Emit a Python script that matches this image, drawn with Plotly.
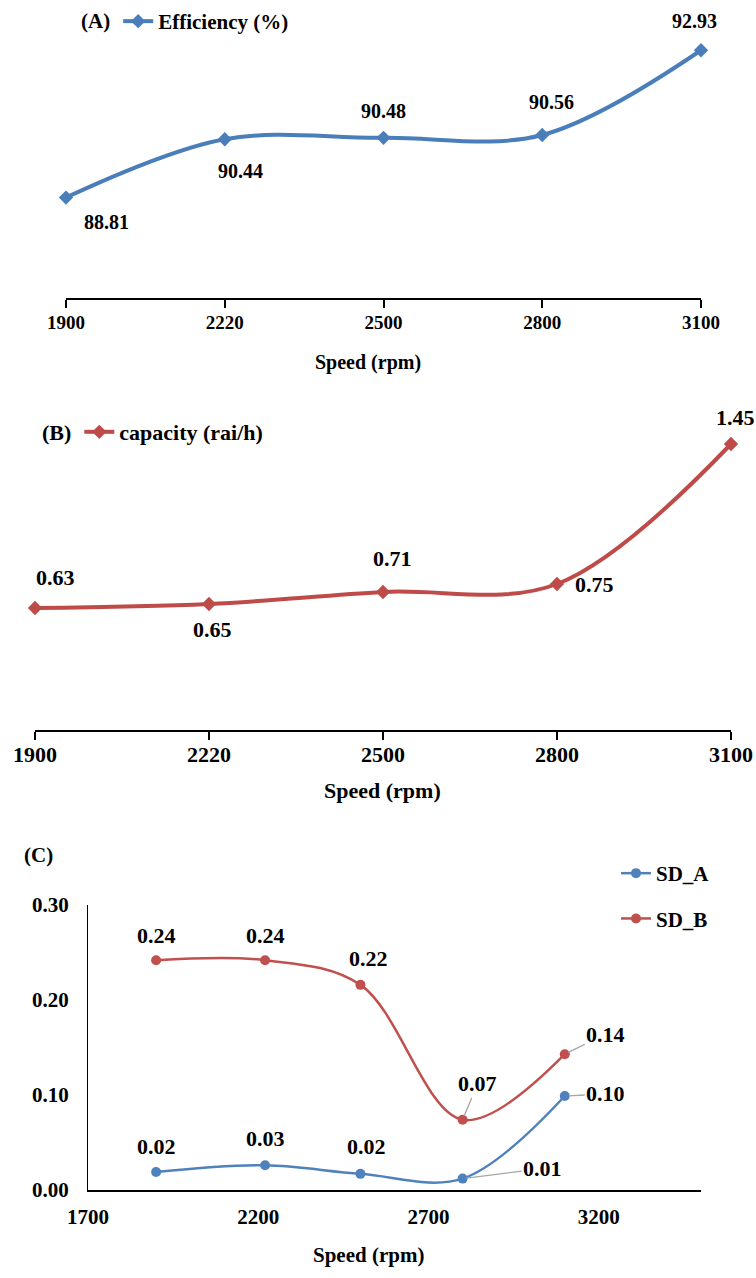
import plotly.graph_objects as go

# ---------------- data ----------------
speed_cat = ["1900", "2220", "2500", "2800", "3100"]
speed_num = [1900, 2220, 2500, 2800, 3100]
efficiency = [88.81, 90.44, 90.48, 90.56, 92.93]
capacity = [0.63, 0.65, 0.71, 0.75, 1.45]
sd_a = [0.019, 0.026, 0.017, 0.012, 0.099]
sd_b = [0.242, 0.242, 0.216, 0.074, 0.143]
sd_a_labels = ["0.02", "0.03", "0.02", "0.01", "0.10"]
sd_b_labels = ["0.24", "0.24", "0.22", "0.07", "0.14"]

W, H = 756, 1278
FONT = "Liberation Serif"
BLUE = "#4A7EBB"
RED = "#BE4B48"
C_BLUE = "#4F81BD"
C_RED = "#C0504D"


def px(x):
    return x / W


def py(y):
    return 1 - y / H


fig = go.Figure()

# Panel A
fig.add_trace(go.Scatter(
    x=speed_cat, y=efficiency, mode="lines+markers", name="Efficiency (%)",
    line=dict(color=BLUE, width=4, shape="spline", smoothing=1),
    marker=dict(symbol="diamond", size=11, color=BLUE),
    xaxis="x", yaxis="y", legend="legend", cliponaxis=False))

# Panel B
fig.add_trace(go.Scatter(
    x=speed_cat, y=capacity, mode="lines+markers", name="capacity (rai/h)",
    line=dict(color=RED, width=4, shape="spline", smoothing=1),
    marker=dict(symbol="diamond", size=11, color=RED),
    xaxis="x2", yaxis="y2", legend="legend2", cliponaxis=False))

# Panel C
fig.add_trace(go.Scatter(
    x=speed_num, y=sd_a, mode="lines+markers", name="SD_A", legendgroup="a",
    line=dict(color=C_BLUE, width=2.5, shape="spline", smoothing=1),
    marker=dict(symbol="circle", size=10, color=C_BLUE),
    xaxis="x3", yaxis="y3", legend="legend3", cliponaxis=False))
fig.add_trace(go.Scatter(
    x=speed_num, y=sd_b, mode="lines+markers", name="SD_B", legendgroup="b",
    line=dict(color=C_RED, width=2.5, shape="spline", smoothing=1),
    marker=dict(symbol="circle", size=10, color=C_RED),
    xaxis="x3", yaxis="y3", legend="legend3", cliponaxis=False))

annotations = []

# data labels panel A (x shift, y shift in px; y shift positive = up)
a_off = [(40, -24), (16, -32), (0, 27), (9, 33), (-7, 29)]
for i, (v, (dx, dy)) in enumerate(zip(efficiency, a_off)):
    annotations.append(dict(x=i, y=v, xref="x", yref="y", text=f"<b>{v:.2f}</b>",
                            showarrow=False, xshift=dx, yshift=dy,
                            xanchor="center", yanchor="middle",
                            font=dict(family=FONT, size=20, color="black")))

b_off = [(20, 31), (3, -25), (9, 34), (37, 0), (4, 26)]
for i, (v, (dx, dy)) in enumerate(zip(capacity, b_off)):
    annotations.append(dict(x=i, y=v, xref="x2", yref="y2", text=f"<b>{v:.2f}</b>",
                            showarrow=False, xshift=dx, yshift=dy,
                            xanchor="center", yanchor="middle",
                            font=dict(family=FONT, size=22, color="black")))

# panel C labels: (mode, dx, dy) ; mode 'n' plain, 'a' with leader line
sa_off = [("n", 0, 25), ("n", 0, 27), ("n", 6, 27), ("a", 80, -10), ("a", 41, -2)]
sb_off = [("n", 0, 25), ("n", 0, 25), ("n", 8, 26), ("a", 15, -36), ("a", 41, -20)]
for series, labels, offs in ((sd_a, sd_a_labels, sa_off), (sd_b, sd_b_labels, sb_off)):
    for xv, v, lab, (mode, dx, dy) in zip(speed_num, series, labels, offs):
        f = dict(family=FONT, size=22, color="black")
        if mode == "n":
            annotations.append(dict(x=xv, y=v, xref="x3", yref="y3", text=f"<b>{lab}</b>",
                                    showarrow=False, xshift=dx, yshift=dy,
                                    xanchor="center", yanchor="middle", font=f))
        else:
            annotations.append(dict(x=xv, y=v, xref="x3", yref="y3", text=f"<b>{lab}</b>",
                                    showarrow=True, arrowhead=0, arrowwidth=1.3,
                                    arrowcolor="#A6A6A6", ax=dx, ay=dy, standoff=4,
                                    font=f))

# axis titles and panel C tag
title_common = dict(xref="paper", yref="paper", showarrow=False,
                    xanchor="center", yanchor="middle")
annotations += [
    dict(x=px(368), y=py(362), text="<b>Speed (rpm)</b>",
         font=dict(family=FONT, size=20, color="black"), **title_common),
    dict(x=px(382), y=py(790), text="<b>Speed (rpm)</b>",
         font=dict(family=FONT, size=22, color="black"), **title_common),
    dict(x=px(368), y=py(1255), text="<b>Speed (rpm)</b>",
         font=dict(family=FONT, size=21, color="black"), **title_common),
    dict(x=px(38), y=py(855), text="<b>(C)</b>",
         font=dict(family=FONT, size=21, color="black"), **title_common),
]

cat_axis_common = dict(type="category", range=[0, 4], showline=True, linecolor="black",
                       linewidth=2, ticks="outside", ticklen=8, tickwidth=1.5,
                       tickcolor="black", showgrid=False, zeroline=False, fixedrange=True,
                       automargin=False)

fig.update_layout(
    template="none",
    width=W, height=H, margin=dict(l=0, r=0, t=0, b=0, pad=0, autoexpand=False),
    paper_bgcolor="white", plot_bgcolor="rgba(0,0,0,0)",
    showlegend=True,
    annotations=annotations,
    xaxis=dict(**cat_axis_common, domain=[px(66), px(701)], anchor="y",
               tickfont=dict(family=FONT, size=19, color="black", weight="bold"),
               ticklabelstandoff=-2),
    yaxis=dict(domain=[py(298), py(12)], range=[86, 94], visible=False, anchor="x",
               automargin=False),
    xaxis4=dict(range=[0, 4], tickvals=[0, 1, 2, 3, 4], overlaying="x", anchor="y",
                ticks="inside", ticklen=8, tickwidth=1.5, tickcolor="black",
                showticklabels=False, showline=False, showgrid=False, zeroline=False,
                automargin=False),
    xaxis2=dict(**cat_axis_common, domain=[px(35), px(731)], anchor="y2",
                tickfont=dict(family=FONT, size=22, color="black", weight="bold"),
                ticklabelstandoff=-4),
    yaxis2=dict(domain=[py(730), py(410)], range=[0.02, 1.62], visible=False,
                anchor="x2", automargin=False),
    xaxis5=dict(range=[0, 4], tickvals=[0, 1, 2, 3, 4], overlaying="x2", anchor="y2",
                ticks="inside", ticklen=8, tickwidth=1.5, tickcolor="black",
                showticklabels=False, showline=False, showgrid=False, zeroline=False,
                automargin=False),
    xaxis3=dict(range=[1700, 3500], tick0=1700, dtick=500, domain=[px(88), px(701)],
                anchor="y3", showline=True, linecolor="black", linewidth=2,
                ticks="", showgrid=False, zeroline=False, automargin=False,
                tickfont=dict(family=FONT, size=21, color="black", weight="bold"),
                ticklabelstandoff=7),
    yaxis3=dict(range=[0, 0.3001], tick0=0, dtick=0.1, tickformat=".2f",
                domain=[py(1190), py(905)], anchor="x3", showline=True,
                linecolor="black", linewidth=1.2, ticks="", showgrid=False,
                zeroline=False, automargin=False,
                tickfont=dict(family=FONT, size=21, color="black", weight="bold"),
                ticklabelstandoff=14),
    legend=dict(x=px(79), y=py(1), xanchor="left", yanchor="top",
                title=dict(text="<b>(A)</b>", side="left",
                           font=dict(family=FONT, size=21, color="black")),
                font=dict(family=FONT, size=21, color="black", weight="bold"),
                bgcolor="rgba(0,0,0,0)", itemwidth=30),
    legend2=dict(x=px(40), y=py(411), xanchor="left", yanchor="top",
                 title=dict(text="<b>(B)</b>", side="left",
                            font=dict(family=FONT, size=22, color="black")),
                 font=dict(family=FONT, size=22, color="black", weight="bold"),
                 bgcolor="rgba(0,0,0,0)", itemwidth=30),
    legend3=dict(x=px(616), y=py(853), xanchor="left", yanchor="top",
                 font=dict(family=FONT, size=21, color="black", weight="bold"),
                 bgcolor="rgba(0,0,0,0)", tracegroupgap=15, itemwidth=30,
                 traceorder="grouped"),
)

fig.write_html("out.html", post_script="document.body.style.margin='0px';",
               config={"displayModeBar": False})
